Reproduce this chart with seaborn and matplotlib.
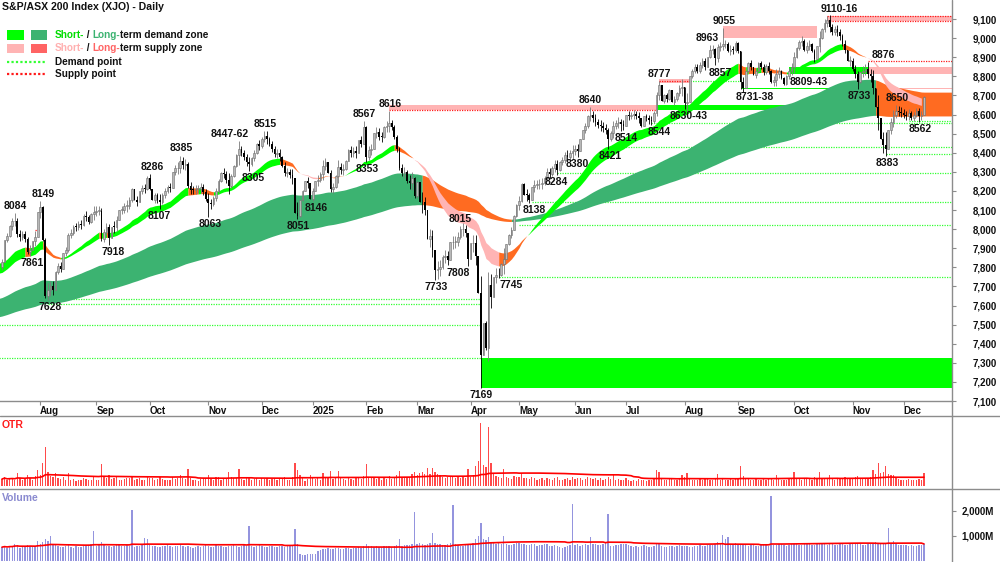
import numpy as np
import pandas as pd
import matplotlib
matplotlib.use("Agg")
import matplotlib.pyplot as plt
import seaborn as sns
from matplotlib.lines import Line2D
from matplotlib.patches import Rectangle

# ---------------- data ----------------
first_day = "2024-07-11"
last_day = "2025-12-11"
asx_holidays = ["2024-12-25", "2024-12-26", "2025-01-01", "2025-01-27",
                "2025-04-18", "2025-04-21", "2025-04-25", "2025-06-09"]

# daily closes
closes_jul24 = [7830, 7945, 7965, 8015, 8040, 8045, 7975, 7960, 7972, 7950, 7880, 7890, 7940, 7960, 8090]
closes_aug24 = [8114, 7943, 7649, 7680, 7700, 7683, 7778, 7809, 7793, 7877, 7888, 7971, 7980, 8011, 8010,
                8026, 8023, 8071, 8064, 8037, 8078, 8092]
closes_sep24 = [8095, 8097, 7950, 7986, 8013, 7953, 8012, 8011, 8050, 8099, 8099, 8120, 8122, 8150, 8210,
                8154, 8140, 8200, 8213, 8212, 8270]
closes_oct24 = [8209, 8152, 8176, 8150, 8140, 8178, 8200, 8222, 8215, 8300, 8318, 8320, 8357, 8335, 8340,
                8225, 8206, 8205, 8211, 8211, 8218, 8195, 8160]
closes_nov24 = [8135, 8129, 8163, 8199, 8250, 8295, 8290, 8255, 8225, 8280, 8330, 8390, 8420, 8400, 8375,
                8350, 8340, 8370, 8400, 8445, 8436]
closes_dec24 = [8473, 8490, 8470, 8445, 8420, 8393, 8400, 8375, 8332, 8296, 8298, 8283, 8268, 8085, 8067,
                8150, 8200, 8250, 8240, 8159]
closes_jan25 = [8201, 8250, 8257, 8287, 8330, 8350, 8294, 8210, 8220, 8280, 8327, 8309, 8313, 8358, 8415,
                8400, 8408, 8400, 8468, 8447, 8532]
closes_feb25 = [8379, 8416, 8420, 8503, 8511, 8483, 8482, 8534, 8541, 8555, 8537, 8481, 8419, 8322, 8296,
                8297, 8251, 8240, 8268, 8172]
closes_mar25 = [8245, 8141, 8140, 8100, 7948, 7962, 7890, 7786, 7789, 7800, 7855, 7860, 7838, 7930, 7932,
                7935, 7960, 7999, 7999, 7982, 7843]
closes_apr25 = [7925, 7925, 7859, 7667, 7343, 7510, 7375, 7709, 7646, 7749, 7762, 7758, 7819, 7843, 7920,
                7969, 7997, 8070, 8126]
closes_may25 = [8146, 8238, 8179, 8178, 8150, 8221, 8231, 8234, 8236, 8240, 8270, 8300, 8290, 8320, 8340,
                8310, 8350, 8361, 8390, 8380, 8400, 8410]
closes_jun25 = [8420, 8410, 8470, 8520, 8540, 8590, 8600, 8580, 8560, 8547, 8540, 8530, 8520, 8470, 8505,
                8540, 8555, 8559, 8550, 8542]
closes_jul25 = [8597, 8590, 8600, 8603, 8590, 8580, 8538, 8590, 8580, 8570, 8565, 8610, 8700, 8757, 8669,
                8700, 8680, 8728, 8666, 8680, 8710, 8740, 8742]
closes_aug25 = [8662, 8664, 8800, 8830, 8850, 8830, 8860, 8880, 8850, 8900, 8938, 8945, 8896, 8952, 8960,
                8967, 8970, 8935, 8940, 8937, 8973]
closes_sep25 = [8931, 8771, 8740, 8826, 8871, 8849, 8806, 8830, 8870, 8850, 8820, 8856, 8830, 8770, 8780,
                8810, 8830, 8790, 8760, 8800, 8830, 8849]
closes_oct25 = [8900, 8950, 8980, 8987, 8940, 8960, 8970, 8930, 8890, 8960, 9000, 9050, 9080, 9095, 9060,
                9030, 9050, 9030, 9010, 8970, 8940, 8880, 8882]
closes_nov25 = [8840, 8810, 8770, 8820, 8830, 8840, 8810, 8800, 8740, 8640, 8580, 8470, 8440, 8420, 8520,
                8560, 8600, 8620, 8615, 8610]
closes_dec25 = [8600, 8590, 8610, 8580, 8600, 8620, 8590, 8600, 8690]

# daily true range (OTR panel), points
otr_jul24 = [55, 70, 45, 60, 65, 50, 100, 60, 50, 55, 90, 60, 50, 80, 130]
otr_aug24 = [90, 180, 310, 110, 80, 75, 100, 60, 55, 70, 50, 100, 45, 55, 40, 50, 45, 60, 55, 50, 50, 70]
otr_sep24 = [50, 45, 172, 70, 65, 90, 55, 60, 80, 50, 45, 55, 60, 65, 75, 50, 55, 60, 45, 50, 70]
otr_oct24 = [65, 60, 50, 55, 75, 55, 50, 45, 50, 70, 55, 60, 90, 65, 55, 135, 60, 45, 50, 40, 55, 60, 65]
otr_nov24 = [85, 55, 50, 70, 75, 50, 55, 60, 110, 70, 60, 65, 135, 55, 50, 60, 65, 45, 55, 60, 50]
otr_dec24 = [60, 55, 65, 50, 55, 60, 50, 65, 55, 70, 45, 50, 75, 180, 130, 90, 60, 40, 55, 85]
otr_jan25 = [70, 55, 60, 50, 105, 65, 60, 120, 55, 65, 120, 60, 55, 50, 65, 55, 50, 60, 70, 55, 80]
otr_feb25 = [172, 70, 60, 75, 55, 60, 50, 65, 55, 80, 55, 70, 90, 120, 65, 60, 70, 75, 95, 110]
otr_mar25 = [90, 100, 110, 95, 140, 95, 140, 110, 95, 85, 70, 65, 75, 80, 70, 60, 75, 65, 70, 60, 135]
otr_apr25 = [75, 90, 155, 195, 500, 165, 150, 470, 180, 100, 80, 70, 65, 135, 75, 60, 55, 80, 70]
otr_may25 = [70, 100, 65, 60, 55, 70, 60, 50, 55, 60, 45, 65, 55, 50, 60, 70, 50, 45, 55, 60, 50, 75]
otr_jun25 = [55, 60, 65, 50, 55, 70, 60, 55, 65, 50, 60, 50, 55, 70, 55, 90, 50, 55, 45, 50]
otr_jul25 = [60, 45, 40, 45, 40, 55, 50, 45, 40, 50, 45, 60, 130, 110, 55, 50, 45, 60, 55, 45, 50, 55, 90]
otr_aug25 = [70, 100, 55, 45, 50, 45, 55, 50, 60, 55, 50, 45, 60, 95, 50, 55, 45, 50, 55, 45, 60]
otr_sep25 = [55, 160, 80, 60, 55, 50, 45, 55, 50, 45, 55, 50, 60, 65, 50, 90, 55, 50, 45, 50, 55, 60]
otr_oct25 = [110, 60, 55, 50, 65, 60, 55, 50, 70, 60, 110, 55, 65, 60, 90, 55, 50, 60, 55, 65, 70, 60, 55]
otr_nov25 = [65, 70, 80, 60, 55, 60, 65, 70, 130, 95, 180, 100, 110, 160, 95, 85, 90, 60, 55, 50]
otr_dec25 = [50, 45, 55, 50, 45, 50, 55, 45, 100]

# daily volume, millions of shares
vol_jul24 = [560, 600, 540, 620, 590, 700, 640, 520, 580, 600, 650, 610, 560, 590, 800]
vol_aug24 = [700, 760, 880, 800, 1000, 650, 640, 600, 580, 560, 620, 680, 560, 540, 600, 580, 560, 600, 620,
             640, 700, 1200]
vol_sep24 = [620, 680, 750, 640, 600, 620, 580, 600, 650, 640, 600, 620, 640, 600, 2030, 560, 600, 620, 660,
             930, 900]
vol_oct24 = [640, 600, 620, 580, 560, 600, 620, 640, 600, 580, 600, 620, 640, 600, 580, 620, 560, 540, 580,
             600, 560, 620, 640]
vol_nov24 = [600, 560, 580, 700, 620, 600, 580, 560, 600, 620, 640, 600, 580, 620, 640, 600, 1400, 620, 580,
             600, 640]
vol_dec24 = [600, 580, 560, 600, 620, 580, 560, 600, 620, 580, 600, 620, 640, 1270, 700, 300, 260, 240, 280, 300]
vol_jan25 = [280, 300, 420, 460, 480, 500, 520, 500, 480, 520, 540, 500, 480, 520, 540, 500, 520, 540, 560,
             520, 600]
vol_feb25 = [700, 620, 600, 580, 600, 560, 580, 600, 620, 600, 580, 620, 640, 900, 620, 640, 660, 640, 700, 1960]
vol_mar25 = [700, 720, 680, 660, 700, 720, 1130, 740, 700, 680, 640, 660, 700, 720, 2230, 680, 640, 620, 600,
             640, 680]
vol_apr25 = [700, 720, 900, 1000, 1500, 900, 860, 950, 760, 720, 700, 740, 680, 1000, 700, 660, 640, 680, 720]
vol_may25 = [720, 680, 700, 660, 640, 700, 680, 620, 640, 660, 700, 680, 600, 620, 640, 600, 580, 540, 560,
             620, 640, 2260]
vol_jun25 = [640, 700, 620, 660, 700, 640, 950, 700, 680, 660, 640, 700, 720, 1870, 620, 600, 640, 660, 680, 700]
vol_jul25 = [680, 640, 620, 560, 600, 580, 620, 640, 600, 560, 580, 620, 700, 680, 600, 580, 560, 600, 620,
             580, 600, 640, 620]
vol_aug25 = [600, 620, 580, 560, 600, 620, 640, 600, 620, 640, 660, 640, 700, 760, 720, 1040, 900, 960, 700,
             680, 720]
vol_sep25 = [660, 700, 680, 640, 620, 660, 640, 620, 600, 640, 660, 640, 620, 2580, 640, 660, 700, 680, 640,
             620, 660, 700]
vol_oct25 = [680, 700, 660, 640, 680, 720, 700, 660, 640, 680, 700, 720, 680, 660, 700, 680, 640, 660, 680,
             700, 660, 640, 680]
vol_nov25 = [700, 680, 720, 700, 660, 640, 680, 700, 720, 760, 740, 700, 680, 720, 1300, 700, 810, 680, 660, 640]
vol_dec25 = [640, 660, 620, 640, 600, 620, 640, 660, 680]

first_open = 7800
# band edges just left of the first bar, and the EMA spans of the two zones
short_seed = [7823, 7770]
long_seed = [7638, 7542]
short_spans = [25, 36]
long_spans = [100, 200]

# horizontal zones (low, high, start bar, end bar) - None runs to the right edge
demand_zones = [(7169, 7324, 188, None), (8621, 8648, 257, 343),
                (8812, 8850, 309, 340), (8731, 8738, 290, 342)]
supply_zones = [(8622, 8650, 152, 257), (8766, 8786, 258, 270), (9000, 9062, 283, 320),
                (9090, 9118, 324, None), (8812, 8850, 340, None), (8731, 8738, 342, None)]
demand_points = [(7632, 18, 188), (7606, 18, 188), (7496, -1, 188), (7324, -1, 188),
                 (7751, 195, None), (8021, 203, None), (8143, 208, None), (8292, 218, None),
                 (8430, 238, None), (8554, 255, None), (8777, 270, 290), (8391, 347, None),
                 (8568, 356, None)]
supply_points = [(7995, 13, 15), (8622, 152, 257), (8777, 258, 270), (9118, 324, None),
                 (9090, 324, None), (8882, 340, None)]

# swing labels: text, text centre bar, bar of the extreme, value, side
labels = [
    ("8084", 5.1, 5, 8084, "hi"), ("7861", 11.8, 11, 7861, "lo"), ("8149", 16, 15, 8149, "hi"),
    ("7628", 18.8, 18, 7628, "lo"), ("7918", 43.7, 42, 7918, "lo"), ("8286", 58.8, 58, 8286, "hi"),
    ("8107", 61.8, 62, 8107, "lo"), ("8385", 70.5, 70, 8385, "hi"), ("8063", 81.7, 81, 8063, "lo"),
    ("8447-62", 89.5, 93, 8462, "hi"), ("8305", 98.7, 97, 8305, "lo"), ("8515", 103.5, 103, 8515, "hi"),
    ("8051", 116.3, 116, 8051, "lo"), ("8146", 123.3, 122, 8146, "lo"), ("8567", 142.2, 142, 8567, "hi"),
    ("8353", 143.2, 143, 8353, "lo"), ("8616", 152.3, 152, 8616, "hi"), ("7733", 170.3, 170, 7733, "lo"),
    ("8015", 180, 180, 8015, "hi"), ("7808", 179, 183, 7808, "lo"), ("7169", 188, 188, 7169, "lo"),
    ("7745", 199.8, 195, 7745, "lo"), ("8138", 208.9, 207, 8138, "lo"), ("8284", 217.8, 218, 8284, "lo"),
    ("8380", 225.8, 226, 8380, "lo"), ("8640", 230.9, 231, 8640, "hi"), ("8421", 238.7, 238, 8421, "lo"),
    ("8514", 244.9, 243, 8514, "lo"), ("8544", 258, 255, 8544, "lo"), ("8777", 258, 258, 8777, "hi"),
    ("8630-43", 269.7, 268, 8630, "lo"), ("8963", 276.7, 278, 8963, "hi"), ("9055", 283.5, 283, 9055, "hi"),
    ("8857", 282, 280, 8857, "lo"), ("8731-38", 295.6, 290, 8731, "lo"), ("8809-43", 316.6, 310, 8809, "lo"),
    ("9110-16", 328.6, 324, 9116, "hi"), ("8876", 346, 340, 8876, "hi"), ("8733", 336.5, 336, 8733, "lo"),
    ("8650", 351.4, 351, 8650, "hi"), ("8383", 347.5, 347, 8383, "lo"), ("8562", 360.4, 360, 8562, "lo"),
]

months = ["jul24", "aug24", "sep24", "oct24", "nov24", "dec24", "jan25", "feb25", "mar25",
          "apr25", "may25", "jun25", "jul25", "aug25", "sep25", "oct25", "nov25", "dec25"]
closes = np.array(sum([globals()["closes_" + m] for m in months], []), dtype=float)
otr = np.array(sum([globals()["otr_" + m] for m in months], []), dtype=float)
vol = np.array(sum([globals()["vol_" + m] for m in months], []), dtype=float)

dates = pd.bdate_range(first_day, last_day)
dates = dates[~dates.isin(pd.to_datetime(asx_holidays))]
n = len(closes)
dates = dates[:n]
xs = np.arange(n)
END = 373.0

# colours
C_SHORT_UP = "#00ff00"
C_SHORT_DN = "#ffb4b4"
C_LONG_UP = "#3cb371"
C_MID = "#ff6b21"
C_LONG_DN = "#ff6464"
C_DOT_G = "#33ff33"
C_DOT_R = "#ff1a1a"

sns.set_theme(style="white")
plt.rcParams["font.family"] = ["Liberation Sans", "DejaVu Sans"]

W, H = 1000, 562
fig = plt.figure(figsize=(10, 5.62), dpi=100)
ax = fig.add_axes([0, (H - 401) / H, 952 / W, 401 / H])
ax_otr = fig.add_axes([0, (H - 488) / H, 952 / W, 72 / H])
ax_vol = fig.add_axes([0, 0, 952 / W, 73 / H])
for a in (ax, ax_otr, ax_vol):
    a.set_facecolor("none")
    a.set_xlim(-0.8, END)
    for s in a.spines.values():
        s.set_visible(False)
    a.grid(False)

ax.set_ylim(7100, 9199.5)
ax_otr.set_ylim(-16, 555)
ax_vol.set_ylim(-28, 2857)


def rx(e):
    return END if e is None else e


# zones and points
for lo, hi, s, e in demand_zones:
    ax.fill_between([s, rx(e)], lo, hi, color=C_SHORT_UP, lw=0, zorder=1)
for lo, hi, s, e in supply_zones:
    ax.fill_between([s, rx(e)], lo, hi, color=C_SHORT_DN, lw=0, zorder=1)
for v, s, e in demand_points:
    ax.hlines(v, s, rx(e), colors=C_DOT_G, linestyles=(0, (1, 1)), lw=0.9, zorder=1.2)
for v, s, e in supply_points:
    ax.hlines(v, s, rx(e), colors=C_DOT_R, linestyles=(0, (1, 1)), lw=0.9, zorder=1.2)


# bands
def ema(seed, span):
    return pd.Series(np.r_[seed, closes]).ewm(span=span, adjust=False).mean().values


def fill_band(x, y1, y2, cols, z):
    i = 0
    m = len(x)
    while i < m:
        j = i
        while j + 1 < m and cols[j + 1] == cols[i]:
            j += 1
        a0 = max(i - 1, 0)
        ax.fill_between(x[a0:j + 1], y1[a0:j + 1], y2[a0:j + 1], color=cols[i], lw=0, zorder=z)
        i = j + 1


bx = np.r_[-1, xs, END]
band_close = np.r_[closes[0], closes]

# long-term zone: turns to supply once a close falls under it, back to demand on a close above it
lf, ls = ema(long_seed[0], long_spans[0]), ema(long_seed[1], long_spans[1])
lo_edge, hi_edge = np.minimum(lf, ls), np.maximum(lf, ls)
lcols = []
state = True
for k in range(len(lf)):
    if band_close[k] < lo_edge[k]:
        state = False
    elif band_close[k] > hi_edge[k]:
        state = True
    lcols.append(C_LONG_UP if state else C_MID)
lcols.append(lcols[-1])
fill_band(bx, np.r_[lf, lf[-1]], np.r_[ls, ls[-1]], lcols, 2)

sf, ss = ema(short_seed[0], short_spans[0]), ema(short_seed[1], short_spans[1])
rising = np.r_[True, np.diff(sf) > 0]
scols = list(np.where(rising & (sf >= ss), C_SHORT_UP,
                      np.where(~rising & (sf < ss), C_SHORT_DN, C_MID)))
scols.append(scols[-1])
fill_band(bx, np.r_[sf, sf[-1]], np.r_[ss, ss[-1]], scols, 2.2)

# candles
opens = np.r_[first_open, closes[:-1]]
up = closes >= opens
body_lo = np.minimum(opens, closes)
body_hi = np.maximum(opens, closes)
extra = np.clip(otr - (body_hi - body_lo), 0, None) / 2
lows = body_lo - extra
highs = body_hi + extra
for text, tx, b, v, side in labels:
    if side == "hi":
        highs[b] = max(v, body_hi[b])
    else:
        lows[b] = min(v, body_lo[b])
heights = np.maximum(body_hi - body_lo, 4)
ax.vlines(xs, lows, highs, colors=np.where(up, "#7a7a7a", "black"), lw=0.6, zorder=3)
ax.bar(xs[up], heights[up], bottom=body_lo[up], width=0.66, color="#b8b8b8",
       edgecolor="#6e6e6e", lw=0.4, zorder=4)
ax.bar(xs[~up], heights[~up], bottom=body_lo[~up], width=0.66, color="black", lw=0, zorder=4)

for text, tx, b, v, side in labels:
    ax.annotate(text, (tx, v), xytext=(0, 1.5 if side == "hi" else -1.5), textcoords="offset points",
                ha="center", va="bottom" if side == "hi" else "top", fontsize=7.5,
                fontweight="bold", color="#111111", zorder=6)

# axes ticks
ax.yaxis.tick_right()
ax.set_yticks(range(7100, 9101, 100))
ax.set_yticklabels([f"{v:,}" for v in range(7100, 9101, 100)])
ax.tick_params(axis="y", direction="out", length=3, width=0.8, color="#8c8c8c", pad=12,
               labelsize=7, labelcolor="#111111", right=True, left=False)
for t in ax.get_yticklabels():
    t.set_fontweight("bold")

mstart = [i for i in range(1, n) if dates[i].month != dates[i - 1].month]
mlab = [str(dates[i].year) if dates[i].month == 1 else dates[i].strftime("%b") for i in mstart]
ax.set_xticks(mstart)
ax.set_xticklabels(mlab)
ax.tick_params(axis="x", direction="out", length=3, width=0.8, color="#8c8c8c", pad=0.5,
               labelsize=7, labelcolor="#111111", bottom=True)
for t in ax.get_xticklabels():
    t.set_ha("left")
    t.set_fontweight("bold")
ax.spines["bottom"].set_visible(True)
ax.spines["bottom"].set_color("#8c8c8c")
ax.spines["bottom"].set_linewidth(1)

# OTR panel
ax_otr.bar(xs, otr, width=0.5, color="#ff4a4a", lw=0, zorder=2)
otr_avg = pd.Series(otr).rolling(60, min_periods=1).mean()
sns.lineplot(x=xs, y=otr_avg.values, ax=ax_otr, color="#ff0000", linewidth=1.2, zorder=3)
ax_otr.set_xticks([])
ax_otr.set_yticks([])
ax_otr.set_xlabel("")
ax_otr.text(2 / 952, 0.87, "OTR", transform=ax_otr.transAxes, color="#ff1a1a",
            fontsize=7.5, fontweight="bold", va="center", ha="left")

# Volume panel
ax_vol.bar(xs, vol, width=0.55, color="#9494de", lw=0, zorder=2)
vol_avg = pd.Series(vol).rolling(60, min_periods=1).mean()
sns.lineplot(x=xs, y=vol_avg.values, ax=ax_vol, color="#ff0000", linewidth=1.2, zorder=3)
ax_vol.set_xticks([])
ax_vol.yaxis.tick_right()
ax_vol.set_yticks([1000, 2000])
ax_vol.set_yticklabels(["1,000M", "2,000M"])
ax_vol.tick_params(axis="y", direction="out", length=3, width=0.8, color="#8c8c8c", pad=4,
                   labelsize=7, labelcolor="#111111", right=True, left=False)
for t in ax_vol.get_yticklabels():
    t.set_fontweight("bold")
ax_vol.text(2 / 952, 0.875, "Volume", transform=ax_vol.transAxes, color="#8a8ad0",
            fontsize=7.5, fontweight="bold", va="center", ha="left")

# frame lines
fig.add_artist(Line2D([0.952, 0.952], [0, 1], transform=fig.transFigure, color="#8c8c8c", lw=1))
for py in (416, 488.5):
    fig.add_artist(Line2D([0, 1], [1 - py / H, 1 - py / H], transform=fig.transFigure,
                          color="#8c8c8c", lw=1))

# title and legend (pixel positions inside the price panel)
def ap(x, y):
    return x / 952, 1 - y / 401


fig.canvas.draw()
rend = fig.canvas.get_renderer()


def rich(x, y, parts):
    fx, fy = ap(x, y)
    for s, c in parts:
        t = ax.text(fx, fy, s, color=c, transform=ax.transAxes, va="center", ha="left",
                    fontsize=7.2, fontweight="bold", zorder=7)
        fx += t.get_window_extent(renderer=rend).width / ax.bbox.width


ax.text(*ap(2, 7), "S&P/ASX 200 Index (XJO) - Daily", transform=ax.transAxes, va="center",
        ha="left", fontsize=7.6, fontweight="bold", color="#111111", zorder=7)

rows = [35, 48.3, 61.7, 74]
for (x0, x1), col in [((7, 24), C_SHORT_UP), ((31, 47), C_LONG_UP)]:
    fx0, fy0 = ap(x0, rows[0] + 4.5)
    fx1, fy1 = ap(x1, rows[0] - 4.5)
    ax.add_patch(Rectangle((fx0, fy0), fx1 - fx0, fy1 - fy0, transform=ax.transAxes,
                           color=col, lw=0, zorder=7))
for (x0, x1), col in [((7, 24), C_SHORT_DN), ((31, 47), C_LONG_DN)]:
    fx0, fy0 = ap(x0, rows[1] + 4.5)
    fx1, fy1 = ap(x1, rows[1] - 4.5)
    ax.add_patch(Rectangle((fx0, fy0), fx1 - fx0, fy1 - fy0, transform=ax.transAxes,
                           color=col, lw=0, zorder=7))
for r, col in [(rows[2], C_DOT_G), (rows[3], C_DOT_R)]:
    fx0, fy = ap(7, r)
    fx1, _ = ap(47, r)
    ax.add_artist(Line2D([fx0, fx1], [fy, fy], transform=ax.transAxes, color=col, lw=1.6,
                         linestyle=(0, (1, 1)), zorder=7))

rich(55, rows[0], [("Short-", "#00dd00"), (" / ", "#111111"), ("Long-", C_LONG_UP),
                   ("term demand zone", "#111111")])
rich(55, rows[1], [("Short-", "#ffb0b0"), (" / ", "#111111"), ("Long-", C_LONG_DN),
                   ("term supply zone", "#111111")])
rich(55, rows[2], [("Demand point", "#111111")])
rich(55, rows[3], [("Supply point", "#111111")])

fig.savefig("out.png", dpi=100)
